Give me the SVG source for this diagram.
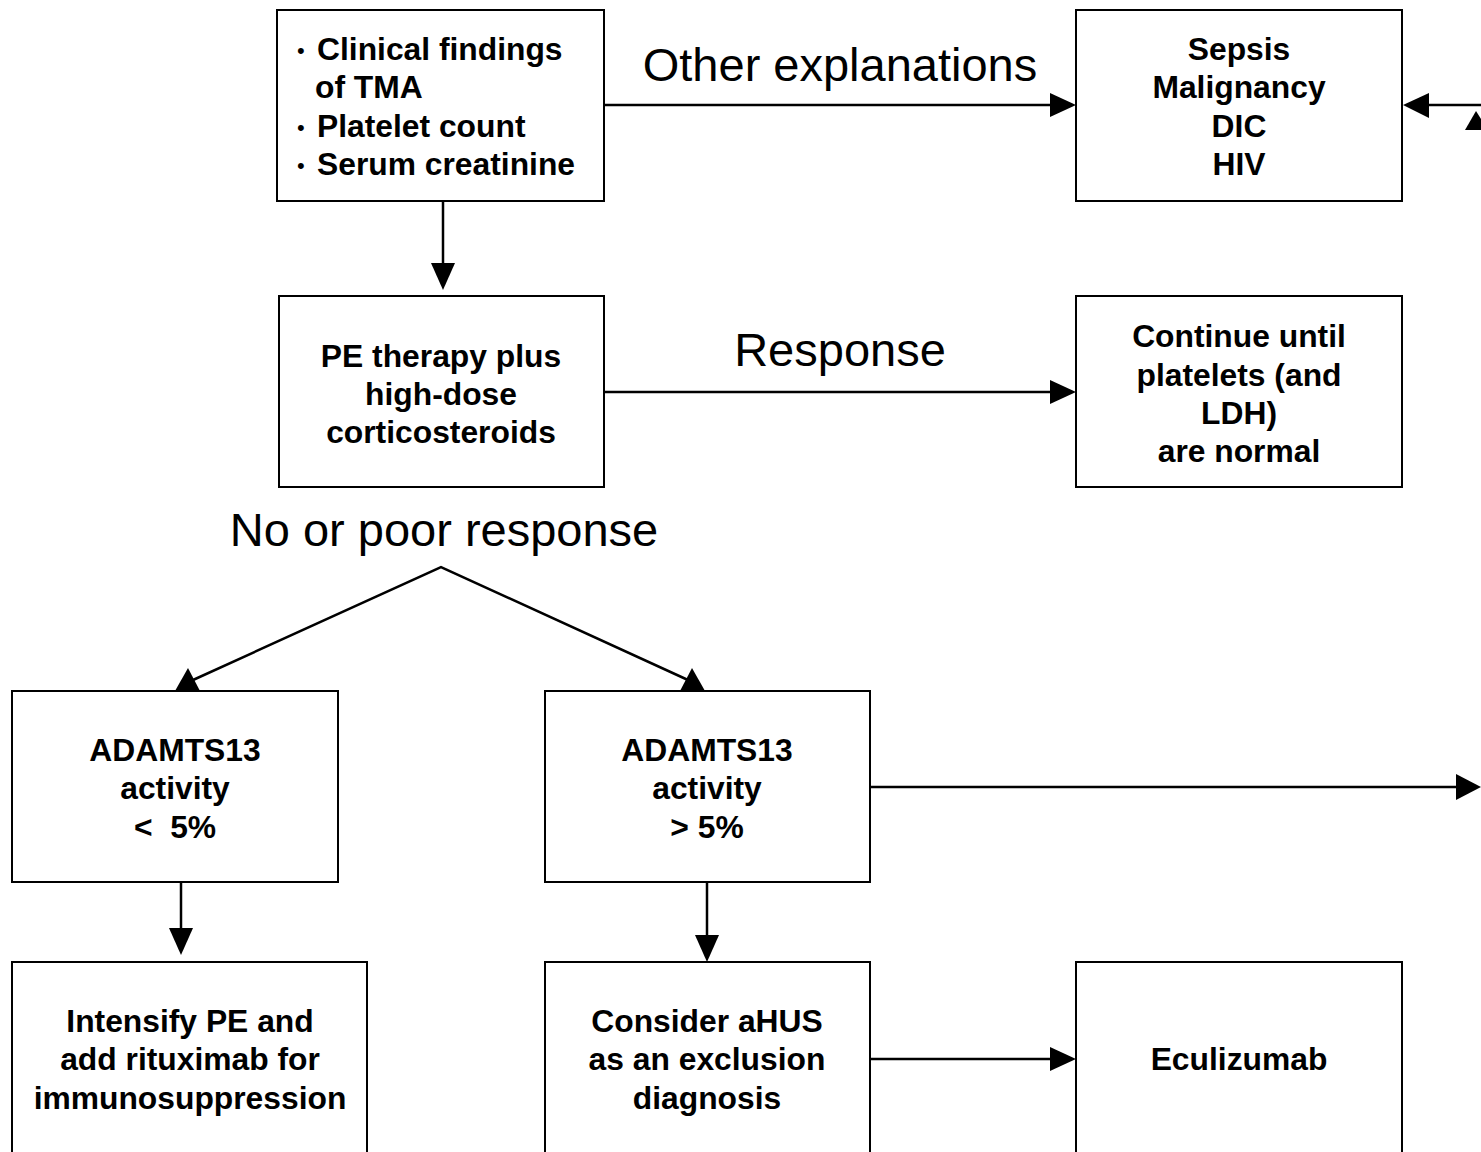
<svg xmlns="http://www.w3.org/2000/svg" width="1481" height="1152" viewBox="0 0 1481 1152">
<style>
.box{fill:#fff;stroke:#000;stroke-width:2}
.t{font-family:"Liberation Sans",Arial,sans-serif;font-weight:bold;font-size:31.8px;fill:#000}
.b{font-family:"Liberation Sans",Arial,sans-serif;font-size:22px;fill:#000}
.c{text-anchor:middle}
.lbl{font-family:"Liberation Sans",Arial,sans-serif;font-size:47px;fill:#000;text-anchor:middle}
.ln{stroke:#000;stroke-width:2.5;fill:none}
.ah{fill:#000}
</style>
<rect width="1481" height="1152" fill="#fff"/>
<g id="n1">
<rect class="box" x="277" y="10" width="327" height="191"/>
<text class="b" x="297" y="58">•</text><text class="t" x="317" y="60">Clinical findings</text>
<text class="t" x="315" y="98">of TMA</text>
<text class="b" x="297" y="135">•</text><text class="t" x="317" y="137">Platelet count</text>
<text class="b" x="297" y="173">•</text><text class="t" x="317" y="175">Serum creatinine</text>
</g>
<g id="n2">
<rect class="box" x="1076" y="10" width="326" height="191"/>
<text class="t c" x="1239" y="60">Sepsis</text>
<text class="t c" x="1239" y="98">Malignancy</text>
<text class="t c" x="1239" y="137">DIC</text>
<text class="t c" x="1239" y="175">HIV</text>
</g>
<g id="n3">
<rect class="box" x="279" y="296" width="325" height="191"/>
<text class="t c" x="441" y="367">PE therapy plus</text>
<text class="t c" x="441" y="405">high-dose</text>
<text class="t c" x="441" y="443">corticosteroids</text>
</g>
<g id="n4">
<rect class="box" x="1076" y="296" width="326" height="191"/>
<text class="t c" x="1239" y="347">Continue until</text>
<text class="t c" x="1239" y="386">platelets (and</text>
<text class="t c" x="1239" y="424">LDH)</text>
<text class="t c" x="1239" y="462">are normal</text>
</g>
<g id="n5">
<rect class="box" x="12" y="691" width="326" height="191"/>
<text class="t c" x="175" y="761">ADAMTS13</text>
<text class="t c" x="175" y="799">activity</text>
<text class="t c" x="175" y="838" xml:space="preserve">&lt;  5%</text>
</g>
<g id="n6">
<rect class="box" x="545" y="691" width="325" height="191"/>
<text class="t c" x="707" y="761">ADAMTS13</text>
<text class="t c" x="707" y="799">activity</text>
<text class="t c" x="707" y="838">&gt; 5%</text>
</g>
<g id="n7">
<rect class="box" x="12" y="962" width="355" height="200"/>
<text class="t c" x="190" y="1032">Intensify PE and</text>
<text class="t c" x="190" y="1070">add rituximab for</text>
<text class="t c" x="190" y="1109">immunosuppression</text>
</g>
<g id="n8">
<rect class="box" x="545" y="962" width="325" height="200"/>
<text class="t c" x="707" y="1032">Consider aHUS</text>
<text class="t c" x="707" y="1070">as an exclusion</text>
<text class="t c" x="707" y="1109">diagnosis</text>
</g>
<g id="n9">
<rect class="box" x="1076" y="962" width="326" height="200"/>
<text class="t c" x="1239" y="1070">Eculizumab</text>
</g>
<g id="labels">
<text class="lbl" x="840" y="81">Other explanations</text>
<text class="lbl" x="840" y="366">Response</text>
<text class="lbl" x="444" y="546">No or poor response</text>
</g>
<g id="connectors">
<line class="ln" x1="604" y1="105" x2="1052" y2="105"/>
<polygon class="ah" points="1076,105 1050,93 1050,117"/>
<line class="ln" x1="443" y1="201" x2="443" y2="265"/>
<polygon class="ah" points="443,290 431,263 455,263"/>
<line class="ln" x1="604" y1="392" x2="1052" y2="392"/>
<polygon class="ah" points="1076,392 1050,380 1050,404"/>
<polyline class="ln" points="193,680 441,567 688,680"/>
<polygon class="ah" points="188,668 175,691 200,691"/>
<polygon class="ah" points="692,668 680,691 705,691"/>
<line class="ln" x1="870" y1="787" x2="1458" y2="787"/>
<polygon class="ah" points="1481,787 1456,774 1456,800"/>
<line class="ln" x1="181" y1="882" x2="181" y2="930"/>
<polygon class="ah" points="181,955 169,928 193,928"/>
<line class="ln" x1="707" y1="882" x2="707" y2="937"/>
<polygon class="ah" points="707,962 695,935 719,935"/>
<line class="ln" x1="870" y1="1059" x2="1052" y2="1059"/>
<polygon class="ah" points="1076,1059 1050,1047 1050,1071"/>
<line class="ln" x1="1427" y1="105" x2="1481" y2="105"/>
<polygon class="ah" points="1403,105 1429,93 1429,118"/>
<polygon class="ah" points="1476,111 1465,130 1488,130"/>
</g>
</svg>
